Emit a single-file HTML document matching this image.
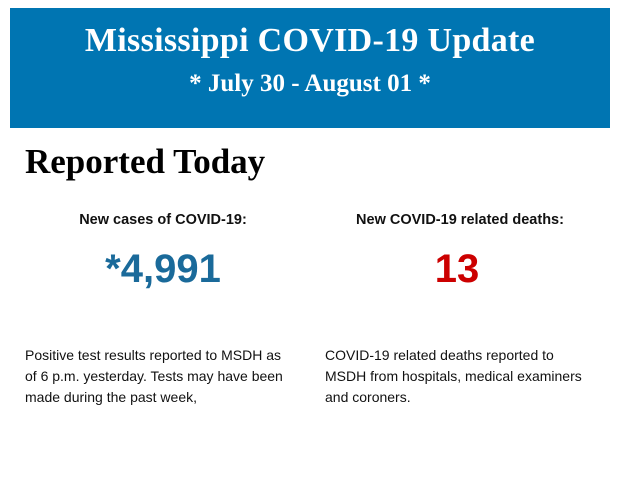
<!DOCTYPE html>
<html><head><meta charset="utf-8"><style>
body{margin:0;width:620px;height:483px;background:#fff;position:relative;overflow:hidden;font-family:"Liberation Sans",sans-serif}
.box{position:absolute;left:10px;top:8px;width:600px;height:120px;background:#0075b2;color:#fff;font-family:"Liberation Serif",serif;font-weight:bold;text-align:center}
.t1{position:absolute;left:0;right:0;top:14px;font-size:34px;letter-spacing:0.3px}
.t2{position:absolute;left:0;right:0;top:62px;font-size:25px}
.h{position:absolute;left:25px;top:142px;font-family:"Liberation Serif",serif;font-weight:bold;font-size:35px;color:#000}
.lab{position:absolute;top:212px;font-size:14.5px;font-weight:bold;color:#111;text-align:center;width:300px}
.num{position:absolute;top:247px;font-size:40px;font-weight:bold;text-align:center;width:300px}
.p{position:absolute;top:345px;font-size:14px;line-height:21px;color:#111;white-space:nowrap}
</style></head><body>
<div class="box"><div class="t1">Mississippi COVID-19 Update</div><div class="t2">* July 30 - August 01 *</div></div>
<div class="h">Reported Today</div>
<div class="lab" style="left:13px">New cases of COVID-19:</div>
<div class="lab" style="left:310px">New COVID-19 related deaths:</div>
<div class="num" style="left:13px;color:#1a6a9a">*4,991</div>
<div class="num" style="left:307px;color:#cc0000">13</div>
<div class="p" style="left:25px">Positive test results reported to MSDH as<br>of 6 p.m. yesterday. Tests may have been<br>made during the past week,</div>
<div class="p" style="left:325px">COVID-19 related deaths reported to<br>MSDH from hospitals, medical examiners<br>and coroners.</div>
</body></html>
